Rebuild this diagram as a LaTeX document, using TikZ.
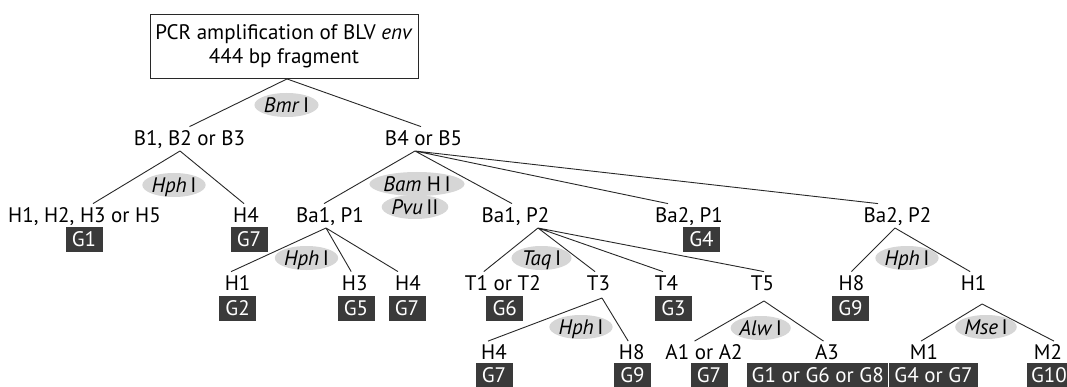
\documentclass[tikz,border=0pt]{standalone}
\usepackage{fontspec}
\setmainfont{PT Sans}
\usepackage{xcolor}
\definecolor{linegray}{RGB}{40, 40, 40}
\definecolor{boxdark}{RGB}{58, 58, 58}
\definecolor{enzgray}{RGB}{214, 214, 214}
\usetikzlibrary{shapes.geometric, positioning, calc}
\newcommand{\treefont}{\fontsize{21}{24}\selectfont}

\begin{document}
\begin{tikzpicture}[x=1pt, y=-1pt,
    lbl/.style={inner xsep=0pt, inner ysep=4pt, text height=14.5pt, text depth=1.5pt, anchor=base, font=\treefont},
    geno/.style={fill=boxdark, text=white, inner xsep=4pt, inner ysep=0pt, minimum width=37pt, minimum height=25pt, text height=14.5pt, text depth=0pt, font=\treefont},
    enz/.style={ellipse, fill=enzgray, inner sep=0pt, minimum width=60pt, minimum height=24pt, text height=14.5pt, text depth=0pt, font=\treefont},
    branch/.style={draw=linegray, line width=0.9pt}]
    \useasboundingbox[fill=white] (0,0) rectangle (1067,387);
    \clip (0,0) rectangle (1067,387);

    % Start box
    \node[draw=linegray, line width=0.9pt, minimum width=268pt, minimum height=64pt, align=center, font=\treefont] (pcr) at (284,46.5) {PCR amplification of BLV \textit{env}\\444 bp fragment};

    % Level 1
    \node[lbl] (b123) at (189.5,145.3) {B1, B2 or B3};
    \node[lbl] (b45) at (423.5,145.3) {B4 or B5};

    % Level 2
    \node[lbl] (h1235) at (84.5,222.3) {H1, H2, H3 or H5};
    \node[lbl] (h4a) at (246,222.3) {H4};
    \node[lbl] (ba1p1) at (330,222.3) {Ba1, P1};
    \node[lbl] (ba1p2) at (515.5,222.3) {Ba1, P2};
    \node[lbl] (ba2p1) at (689,222.3) {Ba2, P1};
    \node[lbl] (ba2p2) at (897.5,222.3) {Ba2, P2};
    \node[geno] (g1a) at (84,239.5) {G1};
    \node[geno] (g7a) at (249,239.5) {G7};
    \node[geno] (g4a) at (701.5,239.5) {G4};

    % Level 3
    \node[lbl] (h1b) at (237.6,290.3) {H1};
    \node[lbl] (h3b) at (354.7,290.3) {H3};
    \node[lbl] (h4b) at (408,290.3) {H4};
    \node[lbl] (t12) at (502.8,290.3) {T1 or T2};
    \node[lbl] (t3) at (598.5,290.3) {T3};
    \node[lbl] (t4) at (666.5,290.3) {T4};
    \node[lbl] (t5) at (762.5,290.3) {T5};
    \node[lbl] (h8c) at (851.5,290.3) {H8};
    \node[lbl] (h1c) at (973.6,290.3) {H1};
    \node[geno] (g2) at (237.6,308.5) {G2};
    \node[geno] (g5) at (356,308.5) {G5};
    \node[geno] (g7b) at (407,308.5) {G7};
    \node[geno] (g6) at (504.7,308.5) {G6};
    \node[geno] (g3) at (673.5,308.5) {G3};
    \node[geno] (g9a) at (850.5,308.5) {G9};

    % Level 4
    \node[lbl] (h4d) at (494,359.8) {H4};
    \node[lbl] (h8d) at (631.7,359.8) {H8};
    \node[lbl] (a12) at (704,359.8) {A1 or A2};
    \node[lbl] (a3) at (827,359.8) {A3};
    \node[lbl] (m1) at (924,359.8) {M1};
    \node[lbl] (m2) at (1048,359.8) {M2};
    \node[geno] (g7c) at (494,375.5) {G7};
    \node[geno] (g9b) at (632.5,375.5) {G9};
    \node[geno] (g7d) at (709,375.5) {G7};
    \node[geno, minimum width=140.5pt] (g168) at (817.7,375.5) {G1 or G6 or G8};
    \node[geno, minimum width=89pt] (g47) at (933.5,375.5) {G4 or G7};
    \node[geno, minimum width=43pt] (g10) at (1049,375.5) {G10};

    % Branches
    \draw[branch] ([xshift=3pt]pcr.south) -- (b123.north) ([xshift=3pt]pcr.south) -- ([xshift=-2.5pt]b45.north);
    \draw[branch] ([xshift=-9.5pt]b123.south) -- ([xshift=8.5pt]h1235.north) ([xshift=-9.5pt]b123.south) -- ([xshift=-2pt]h4a.north);
    \draw[branch] ([xshift=-8.5pt]b45.south) -- ([xshift=-6pt]ba1p1.north) ([xshift=-8.5pt]b45.south) -- ([xshift=-3.5pt]ba1p2.north)
        ([xshift=-8.5pt]b45.south) -- ([xshift=-21pt]ba2p1.north) ([xshift=-8.5pt]b45.south) -- ([xshift=-19.5pt]ba2p2.north);
    \draw[branch] ([xshift=-4pt]ba1p1.south) -- ([xshift=-6.5pt]h1b.north) ([xshift=-4pt]ba1p1.south) -- ([xshift=-3.5pt]h3b.north)
        ([xshift=-4pt]ba1p1.south) -- ([xshift=-10pt]h4b.north);
    \draw[branch] ([xshift=22.5pt]ba1p2.south) -- ([xshift=-19pt]t12.north) ([xshift=22.5pt]ba1p2.south) -- ([xshift=-3.5pt]t3.north)
        ([xshift=22.5pt]ba1p2.south) -- ([xshift=-3.5pt]t4.north) ([xshift=22.5pt]ba1p2.south) -- ([xshift=1.5pt]t5.north);
    \draw[branch] ([xshift=-2.5pt]ba2p2.south) -- (h8c.north) ([xshift=-2.5pt]ba2p2.south) -- ([xshift=-3.5pt]h1c.north);
    \draw[branch] ([xshift=3.5pt,yshift=-2pt]t3.south) -- ([xshift=-6pt]h4d.north) ([xshift=3.5pt,yshift=-2pt]t3.south) -- ([xshift=-3.5pt]h8d.north);
    \draw[branch] ([xshift=1.5pt,yshift=-5pt]t5.south) -- ([xshift=-9.5pt]a12.north) ([xshift=1.5pt,yshift=-5pt]t5.south) -- ([xshift=-3.5pt]a3.north);
    \draw[branch] ([xshift=8.5pt,yshift=-8pt]h1c.south) -- ([xshift=-3pt]m1.north) ([xshift=8.5pt,yshift=-8pt]h1c.south) -- ([xshift=6pt]m2.north);

    % Restriction enzymes
    \node[enz] (bmr) at (286.5,105) {\textit{Bmr}\,I};
    \node[enz] (hph1) at (174,185) {\textit{Hph}\,I};
    \node[enz, minimum width=75pt] (bamh) at (417,184) {\textit{Bam} H\,I};
    \node[enz] (pvu) at (415,207) {\textit{Pvu}\,II};
    \node[enz] (hph2) at (306.5,258) {\textit{Hph}\,I};
    \node[enz] (taq) at (541.5,258) {\textit{Taq}\,I};
    \node[enz] (hph3) at (907,258) {\textit{Hph}\,I};
    \node[enz] (hph4) at (581,327) {\textit{Hph}\,I};
    \node[enz] (alw) at (760.7,328) {\textit{Alw}\,I};
    \node[enz] (mse) at (986,327) {\textit{Mse}\,I};
\end{tikzpicture}
\end{document}
